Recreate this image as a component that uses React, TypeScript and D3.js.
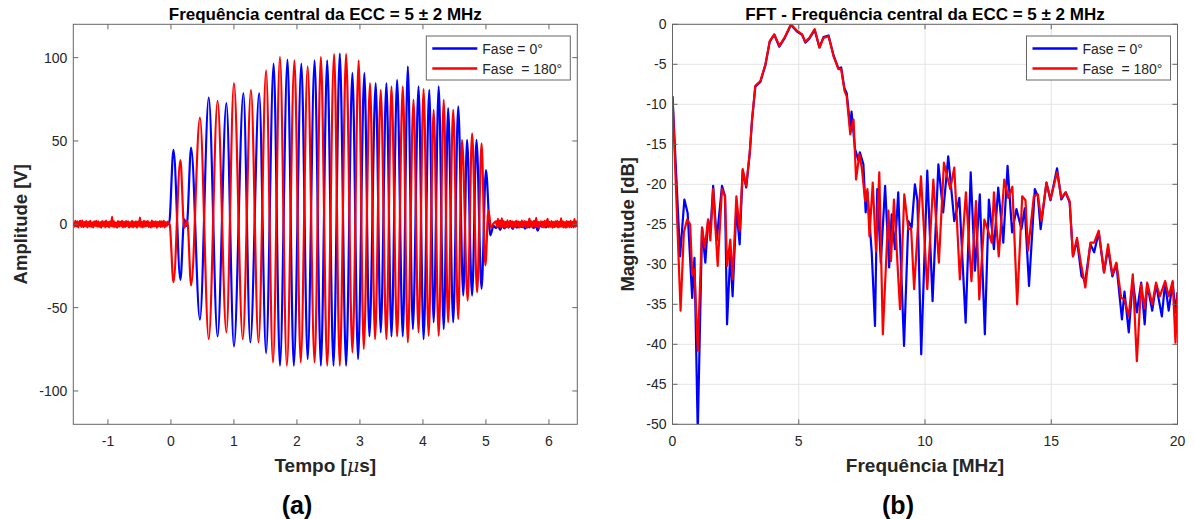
import React from 'react';
import * as d3 from 'd3';

// ---------- data ----------
const timeTicks = [-1, 0, 1, 2, 3, 4, 5, 6];
const ampTicks = [-100, -50, 0, 50, 100];
const freqTicks = [0, 5, 10, 15, 20];
const dbTicks = [0, -5, -10, -15, -20, -25, -30, -35, -40, -45, -50];

const legendLabels = ['Fase = 0°', 'Fase  = 180°'];
const titleA = 'Frequência central da ECC = 5 ± 2 MHz';
const titleB = 'FFT - Frequência central da ECC = 5 ± 2 MHz';

// burst extrema [time µs, amplitude V]
const blueWave: [number, number][] = [
  [-0.03, 0], [0.04, 44.6], [0.15, -33.3], [0.21, 3], [0.25, -1], [0.32, 46], [0.46, -57.2],
  [0.60, 76], [0.74, -67.3], [0.88, 72.7], [1.00, -73.3], [1.15, 78.7], [1.26, -70.9],
  [1.40, 78.7], [1.51, -77.3], [1.63, 96.4], [1.73, -84.9], [1.85, 98.8], [1.95, -84.9],
  [2.07, 96.4], [2.17, -80.9], [2.28, 98.4], [2.38, -84.9], [2.48, 98.4], [2.58, -84.9],
  [2.68, 102.4], [2.78, -84.9], [2.88, 90.8], [2.97, -80.9], [3.07, 90.8], [3.15, -67.3],
  [3.25, 84.7], [3.33, -64.9], [3.42, 84.7], [3.50, -67.3], [3.59, 86.7], [3.68, -67.3],
  [3.76, 94.8], [3.84, -62.9], [3.93, 82.7], [4.01, -68.9], [4.10, 80.7], [4.17, -58.9],
  [4.25, 82.7], [4.33, -62.9], [4.40, 69.7], [4.48, -58.9], [4.56, 70.7], [4.64, -42.8],
  [4.70, 50.6], [4.78, -42.8], [4.85, 50.6], [4.93, -38.7], [5.00, 32.5], [5.07, -6.6], [5.12, -1]
];
const redWave: [number, number][] = [
  [-0.02, 0], [0.04, -34.7], [0.15, 38.5], [0.21, -2], [0.26, 2], [0.32, -36.7], [0.46, 64],
  [0.60, -68.9], [0.74, 74], [0.88, -64.9], [1.00, 84.7], [1.14, -68.9], [1.27, 80.7],
  [1.39, -70.9], [1.51, 92.4], [1.62, -82.9], [1.73, 100.4], [1.84, -84.9], [1.96, 98.4],
  [2.06, -82.9], [2.17, 94.8], [2.28, -82.9], [2.38, 100.4], [2.48, -84.9], [2.59, 102.2],
  [2.68, -84.9], [2.78, 102.2], [2.88, -76.9], [2.98, 98.4], [3.06, -74.9], [3.16, 84.7],
  [3.24, -68.9], [3.33, 80.7], [3.42, -68.9], [3.50, 82.7], [3.59, -67.3], [3.68, 82.7],
  [3.76, -70.9], [3.85, 74.7], [3.93, -64.9], [4.01, 81.1], [4.09, -66.9], [4.17, 68.7],
  [4.25, -66.9], [4.33, 74.7], [4.40, -58.9], [4.48, 68.7], [4.56, -56.9], [4.62, 50.6],
  [4.71, -45.8], [4.78, 54.6], [4.86, -40.8], [4.93, 48.6], [4.99, -24.7], [5.04, 8.4],
  [5.08, -2], [5.12, 0.5]
];

// baseline noise samples (V)
const redNoisePre = [1.6, -1.4, 2.0, -1.2, 1.8, -1.9, 1.3, 2.1, -1.5, 2.2, -1.7, 1.4, -1.1, 1.9, -1.8,
  1.5, -1.3, 2.0, -1.6, 1.2, -1.9, 1.7, -1.0, 2.1, -1.4, 1.8, -1.6, 1.3, -2.0, 1.9, -1.2, 1.6, -1.8,
  2.2, -1.3, 1.4, -1.9, 1.7, -1.1, 4.4, -1.5, 1.8, -1.7, 1.2, -2.0, 1.9, -1.4, 1.6, -1.2, 2.0, -1.8,
  1.5, -1.6, 1.9, -1.1, 1.7, -1.9, 1.3, -1.5, 2.1, -1.7, 1.4, -1.3, 1.8, -2.0, 1.6, -1.2, 4.0, -1.6,
  1.5, -1.8, 2.0, -1.4, 1.7, -1.1, 1.9, -1.7, 1.2, -1.9, 2.2, -1.5, 1.6, -1.3, 1.8, -2.0, 1.4, -1.2,
  1.9, -1.6, 1.7, -1.4, 2.0, -1.8, 1.3, -1.1, 1.6];
const blueNoisePre = [-0.6, 0.7, -0.8, 0.5, -0.7, 0.8, -0.4, 0.6, -0.9, 0.5, -0.6, 0.8, -0.5, 0.7,
  -0.8, 0.4, -0.7, 0.6, -0.5, 0.9, -0.6, 0.5, -0.8, 0.7, -0.4, 0.6, -0.7, 0.8, -0.5, 0.6, -0.9, 0.5,
  -0.6, 0.7, -0.8, 0.4, -0.5, 0.8, -0.7, 0.6];
const redNoisePost = [1.8, -1.6, 3.2, -1.4, 2.2, -1.9, 3.6, -1.2, 1.9, -2.0, 1.5, -1.5, 2.4, -1.8, 1.2,
  2.0, -1.4, 1.7, -2.1, 1.4, -1.6, 2.0, -1.1, 1.8, -2.0, 1.5, -1.3, 2.2, -1.8, 1.2, 1.9, -1.5, 1.6,
  -2.0, 1.3, 3.4, -1.2, 1.7, -1.9, 1.4, 2.0, -1.6, 3.9, -1.3, 1.5, -2.1, 1.2, 1.8, -1.4, 1.6, -1.8,
  2.1, -1.2, 1.6, 3.3, -1.7, 1.4, -1.3, 1.9, -2.0, 1.5, -1.6, 1.8, -1.2, 2.1, -1.9, 1.4, -1.5, 3.5,
  -1.4, 1.7, -1.8, 1.3, -2.0, 1.9, -1.3, 1.6, -1.7, 2.0, -1.5, 1.4, -1.9, 3.1, -1.2, 1.8, -1.6];
const blueNoisePost = [-2.2, -0.6, -3.4, -0.4, -2.4, -0.8, -1.8, -0.2, -2.8, -0.6, -2.0, -0.4, -1.6,
  -0.7, -2.6, -0.5, -1.8, -0.3, -2.2, -0.6, -3.8, -0.5, -1.4, -0.7, -1.9, -0.4, -1.2, -0.6, -1.6,
  -0.5, -1.5, -0.4, -1.3, -0.6, -1.4, -0.3, -1.2, -0.5, -1.3, -0.4];

// FFT [frequency MHz, magnitude dB]
const fftBlue: [number, number][] = [
  [0, -9], [0.3, -29], [0.47, -21.9], [0.6, -23.6], [0.78, -34.2], [0.87, -29.2], [1.0, -51],
  [1.17, -25.4], [1.3, -29.8], [1.41, -24.4], [1.5, -26], [1.61, -20.2], [1.75, -27], [1.96, -20.2],
  [2.08, -21.5], [2.16, -37.5], [2.29, -28.6], [2.38, -34], [2.53, -23], [2.66, -27.5], [2.78, -18.3],
  [2.92, -20.4], [3.06, -16.1], [3.15, -12], [3.28, -7.8], [3.48, -7.2], [3.68, -5.1], [3.85, -2.2],
  [4.03, -1.3], [4.23, -2.8], [4.43, -1.8], [4.69, -0.1], [4.93, -0.9], [5.13, -1.3], [5.26, -2.3],
  [5.42, -1.8], [5.63, -0.7], [5.82, -2.9], [5.98, -1.6], [6.18, -1.4], [6.38, -3.9], [6.57, -5.5],
  [6.68, -5.4], [6.81, -8.0], [6.9, -8.6], [7.04, -13], [7.09, -10.9], [7.23, -15.6], [7.36, -17],
  [7.42, -16], [7.56, -17.5], [7.65, -23.5], [7.72, -21], [7.89, -28.5], [8.02, -37.7], [8.11, -20.6],
  [8.25, -29.8], [8.42, -20.2], [8.58, -30.4], [8.68, -23.75], [8.81, -28.1], [8.94, -21],
  [9.17, -40.2], [9.34, -24.6], [9.47, -25.4], [9.60, -20], [9.70, -22], [9.85, -41.25],
  [10.09, -18.3], [10.30, -34.6], [10.53, -17.5], [10.72, -23.5], [10.92, -16.5], [11.16, -24.6],
  [11.36, -21.7], [11.61, -37.3], [11.81, -18.5], [11.98, -30.8], [12.17, -21.25], [12.37, -38.75],
  [12.53, -21.9], [12.73, -28.1], [12.90, -20.4], [13.1, -27.3], [13.27, -17.7], [13.45, -26],
  [13.62, -23.1], [13.82, -25.6], [13.95, -23], [14.12, -32.7], [14.35, -20.6], [14.47, -21.5],
  [14.58, -25.6], [14.81, -19.8], [14.97, -22], [15.23, -18], [15.40, -21.9], [15.57, -21],
  [15.73, -22.3], [15.86, -29], [16.02, -27], [16.2, -31.5], [16.35, -32], [16.55, -27.5],
  [16.7, -28.5], [16.88, -26], [17.09, -31], [17.25, -28], [17.42, -31.5], [17.58, -30],
  [17.8, -36.9], [17.9, -33.4], [18.07, -38.5], [18.23, -32], [18.39, -36], [18.56, -32.3],
  [18.70, -37.5], [18.80, -32.5], [19.0, -35.8], [19.15, -32.5], [19.38, -36.5], [19.51, -32.3],
  [19.65, -35.8], [19.81, -32.3], [19.92, -36], [20.0, -33.5]
];
const fftRed: [number, number][] = [
  [0, -9], [0.32, -35.8], [0.45, -26], [0.58, -24.4], [0.7, -25], [0.78, -31.3], [0.87, -30.6],
  [1.0, -40.8], [1.17, -25.4], [1.28, -27.9], [1.41, -24.4], [1.5, -27], [1.61, -20.6], [1.79, -30.2],
  [1.96, -20.6], [2.08, -21.5], [2.16, -30.2], [2.29, -26.9], [2.38, -31.9], [2.53, -21.5],
  [2.66, -25.8], [2.78, -18.1], [2.92, -20.2], [3.06, -16], [3.15, -11.9], [3.28, -7.7], [3.48, -7.1],
  [3.68, -5], [3.85, -2.1], [4.03, -1.25], [4.23, -2.7], [4.43, -1.7], [4.69, 0], [4.93, -0.8],
  [5.13, -1.25], [5.26, -2.2], [5.42, -1.7], [5.63, -0.6], [5.82, -2.9], [5.98, -1.7], [6.18, -1.5],
  [6.38, -4], [6.57, -5.6], [6.68, -5.6], [6.81, -8.3], [6.9, -9], [7.04, -13.75], [7.17, -11.9],
  [7.27, -19.4], [7.40, -16.25], [7.50, -18], [7.63, -22.1], [7.72, -20.6], [7.80, -26.5],
  [7.93, -19.8], [8.06, -28.4], [8.19, -18.5], [8.33, -38.75], [8.55, -23.3], [8.65, -29.6],
  [8.77, -21.9], [9.01, -35.6], [9.18, -21.25], [9.34, -25.6], [9.45, -25.5], [9.57, -33.1],
  [9.84, -19], [10.09, -33.1], [10.33, -19.4], [10.55, -29.8], [10.75, -17.3], [11.0, -20.6],
  [11.16, -17.9], [11.38, -31.9], [11.62, -21], [11.84, -32.1], [12.02, -22.1], [12.15, -34.4],
  [12.35, -24.4], [12.50, -25.8], [12.64, -27.3], [12.73, -21], [12.92, -29], [13.14, -19.4],
  [13.3, -21.7], [13.46, -20.3], [13.65, -35], [13.85, -21.5], [13.98, -22], [14.08, -28.3],
  [14.31, -21.5], [14.47, -21.25], [14.61, -24.6], [14.81, -19.8], [14.97, -21.9], [15.23, -18.5],
  [15.40, -21.7], [15.57, -21], [15.73, -22.1], [15.86, -29], [16.02, -26.7], [16.18, -30],
  [16.35, -32.9], [16.55, -27.3], [16.7, -27.3], [16.88, -25.8], [17.09, -31], [17.25, -27.5],
  [17.42, -31.25], [17.58, -29.8], [17.77, -34.2], [17.9, -34.4], [18.07, -36.5], [18.23, -31.25],
  [18.39, -42.1], [18.56, -32.5], [18.7, -35.5], [18.80, -32.3], [19.0, -35], [19.15, -32.3],
  [19.3, -34], [19.51, -32.1], [19.65, -34], [19.81, -32.1], [19.92, -39.8], [20.0, -33.5]
];

// ---------- layout ----------
const FONT = "'Liberation Sans', Arial, Helvetica, sans-serif";
const AX = '#666666';
const TXT = '#262626';
const BLUE = '#0000ff';
const RED = '#ff0000';
const Y0 = 24.3, Y1 = 424.3;
const A = { x0: 73.3, x1: 577.3 };
const B = { x0: 672.5, x1: 1177.5 };
const TMIN = -1.55, TMAX = 6.45;

function sampleTimes(n: number, a: number, b: number) {
  return d3.range(n).map(i => a + (i * (b - a)) / (n - 1));
}
function buildSeries(pre: number[], wave: [number, number][], post: number[]): [number, number][] {
  const tp = sampleTimes(pre.length, TMIN, -0.05);
  const tq = sampleTimes(post.length, 5.16, TMAX);
  return [
    ...pre.map((v, i) => [tp[i], v] as [number, number]),
    ...wave,
    ...post.map((v, i) => [tq[i], v] as [number, number]),
  ];
}

function Grid({ x0, x1, xs, ys, xt, yt }: any) {
  return (
    <g>
      {xt.map((t: number) => (
        <line key={'gx' + t} x1={xs(t)} x2={xs(t)} y1={Y0} y2={Y1} stroke="#e3e3e3" strokeWidth={1} />
      ))}
      {yt.map((t: number) => (
        <line key={'gy' + t} x1={x0} x2={x1} y1={ys(t)} y2={ys(t)} stroke="#e3e3e3" strokeWidth={1} />
      ))}
    </g>
  );
}

function AxesOverlay({ x0, x1, xs, ys, xt, yt }: any) {
  const tl = 5;
  return (
    <g>
      <rect x={x0} y={Y0} width={x1 - x0} height={Y1 - Y0} fill="none" stroke={AX} strokeWidth={1} />
      {xt.map((t: number) => (
        <g key={'xt' + t}>
          <line x1={xs(t)} x2={xs(t)} y1={Y1} y2={Y1 - tl} stroke={AX} />
          <line x1={xs(t)} x2={xs(t)} y1={Y0} y2={Y0 + tl} stroke={AX} />
          <text x={xs(t)} y={446} textAnchor="middle" fontSize={14} fill={TXT} fontFamily={FONT}>{t}</text>
        </g>
      ))}
      {yt.map((t: number) => (
        <g key={'yt' + t}>
          <line x1={x0} x2={x0 + tl} y1={ys(t)} y2={ys(t)} stroke={AX} />
          <line x1={x1} x2={x1 - tl} y1={ys(t)} y2={ys(t)} stroke={AX} />
          <text x={x0 - 6} y={ys(t) + 5} textAnchor="end" fontSize={14} fill={TXT} fontFamily={FONT}>{t}</text>
        </g>
      ))}
    </g>
  );
}

function Legend({ right }: { right: number }) {
  const w = 144, h = 44, x = right - 7 - w, y = 36;
  return (
    <g>
      <rect x={x} y={y} width={w} height={h} fill="#fff" stroke={AX} strokeWidth={1} />
      {[BLUE, RED].map((c, i) => (
        <g key={c}>
          <line x1={x + 6} x2={x + 51} y1={y + 12.5 + i * 20} y2={y + 12.5 + i * 20} stroke={c} strokeWidth={2.4} />
          <text x={x + 56} y={y + 17.5 + i * 20} fontSize={14} fill={TXT} fontFamily={FONT} style={{ whiteSpace: 'pre' }}>
            {legendLabels[i]}
          </text>
        </g>
      ))}
    </g>
  );
}

export default function App() {
  const xa = d3.scaleLinear().domain([TMIN, TMAX]).range([A.x0, A.x1]);
  const ya = d3.scaleLinear().domain([-120, 120]).range([Y1, Y0]);
  const xb = d3.scaleLinear().domain([0, 20]).range([B.x0, B.x1]);
  const yb = d3.scaleLinear().domain([-50, 0]).range([Y1, Y0]);

  const waveLine = d3.line<[number, number]>().x(d => xa(d[0])).y(d => ya(d[1])).curve(d3.curveMonotoneX);
  const fftLine = d3.line<[number, number]>().x(d => xb(d[0])).y(d => yb(d[1]));

  const blueSeries = buildSeries(blueNoisePre, blueWave, blueNoisePost);
  const redSeries = buildSeries(redNoisePre, redWave, redNoisePost);

  return (
    <svg width={1194} height={519} style={{ position: 'absolute', left: 0, top: 0, background: '#fff' }}
      fontFamily={FONT}>
      <defs>
        <clipPath id="clipA"><rect x={A.x0} y={Y0} width={A.x1 - A.x0} height={Y1 - Y0} /></clipPath>
        <clipPath id="clipB"><rect x={B.x0} y={Y0} width={B.x1 - B.x0} height={Y1 - Y0} /></clipPath>
      </defs>
      <rect x={0} y={0} width={1194} height={519} fill="#fff" />

      {/* panel (a) */}
      <g clipPath="url(#clipA)">
        <path d={waveLine(blueSeries) || ''} fill="none" stroke={BLUE} strokeWidth={2.2} strokeLinejoin="round" />
        <path d={waveLine(redSeries) || ''} fill="none" stroke={RED} strokeWidth={2.2} strokeLinejoin="round" />
      </g>
      <AxesOverlay x0={A.x0} x1={A.x1} xs={xa} ys={ya} xt={timeTicks} yt={ampTicks} />
      <Legend right={A.x1} />
      <text x={(A.x0 + A.x1) / 2} y={19.5} textAnchor="middle" fontSize={17} fontWeight="bold" fill="#000">{titleA}</text>
      <text x={(A.x0 + A.x1) / 2} y={472} textAnchor="middle" fontSize={19} fontWeight="bold" fill={TXT}>
        Tempo [<tspan fontStyle="italic" fontWeight="normal" fontFamily="'DejaVu Serif', serif">μ</tspan>s]
      </text>
      <text transform={`translate(27,${(Y0 + Y1) / 2}) rotate(-90)`} textAnchor="middle" fontSize={18.5} fontWeight="bold" fill={TXT}>Amplitude [V]</text>
      <text x={297} y={514} textAnchor="middle" fontSize={25} fontWeight="bold" fill="#000">(a)</text>

      {/* panel (b) */}
      <Grid x0={B.x0} x1={B.x1} xs={xb} ys={yb} xt={freqTicks} yt={dbTicks} />
      <g clipPath="url(#clipB)">
        <path d={fftLine(fftBlue) || ''} fill="none" stroke={BLUE} strokeWidth={2.2} strokeLinejoin="round" />
        <path d={fftLine(fftRed) || ''} fill="none" stroke={RED} strokeWidth={2.2} strokeLinejoin="round" />
      </g>
      <AxesOverlay x0={B.x0} x1={B.x1} xs={xb} ys={yb} xt={freqTicks} yt={dbTicks} />
      <Legend right={B.x1} />
      <text x={(B.x0 + B.x1) / 2} y={19.5} textAnchor="middle" fontSize={17} fontWeight="bold" fill="#000">{titleB}</text>
      <text x={(B.x0 + B.x1) / 2} y={472} textAnchor="middle" fontSize={19} fontWeight="bold" fill={TXT}>Frequência [MHz]</text>
      <text transform={`translate(634,${(Y0 + Y1) / 2}) rotate(-90)`} textAnchor="middle" fontSize={18.5} fontWeight="bold" fill={TXT}>Magnitude [dB]</text>
      <text x={898} y={514} textAnchor="middle" fontSize={25} fontWeight="bold" fill="#000">(b)</text>
    </svg>
  );
}
